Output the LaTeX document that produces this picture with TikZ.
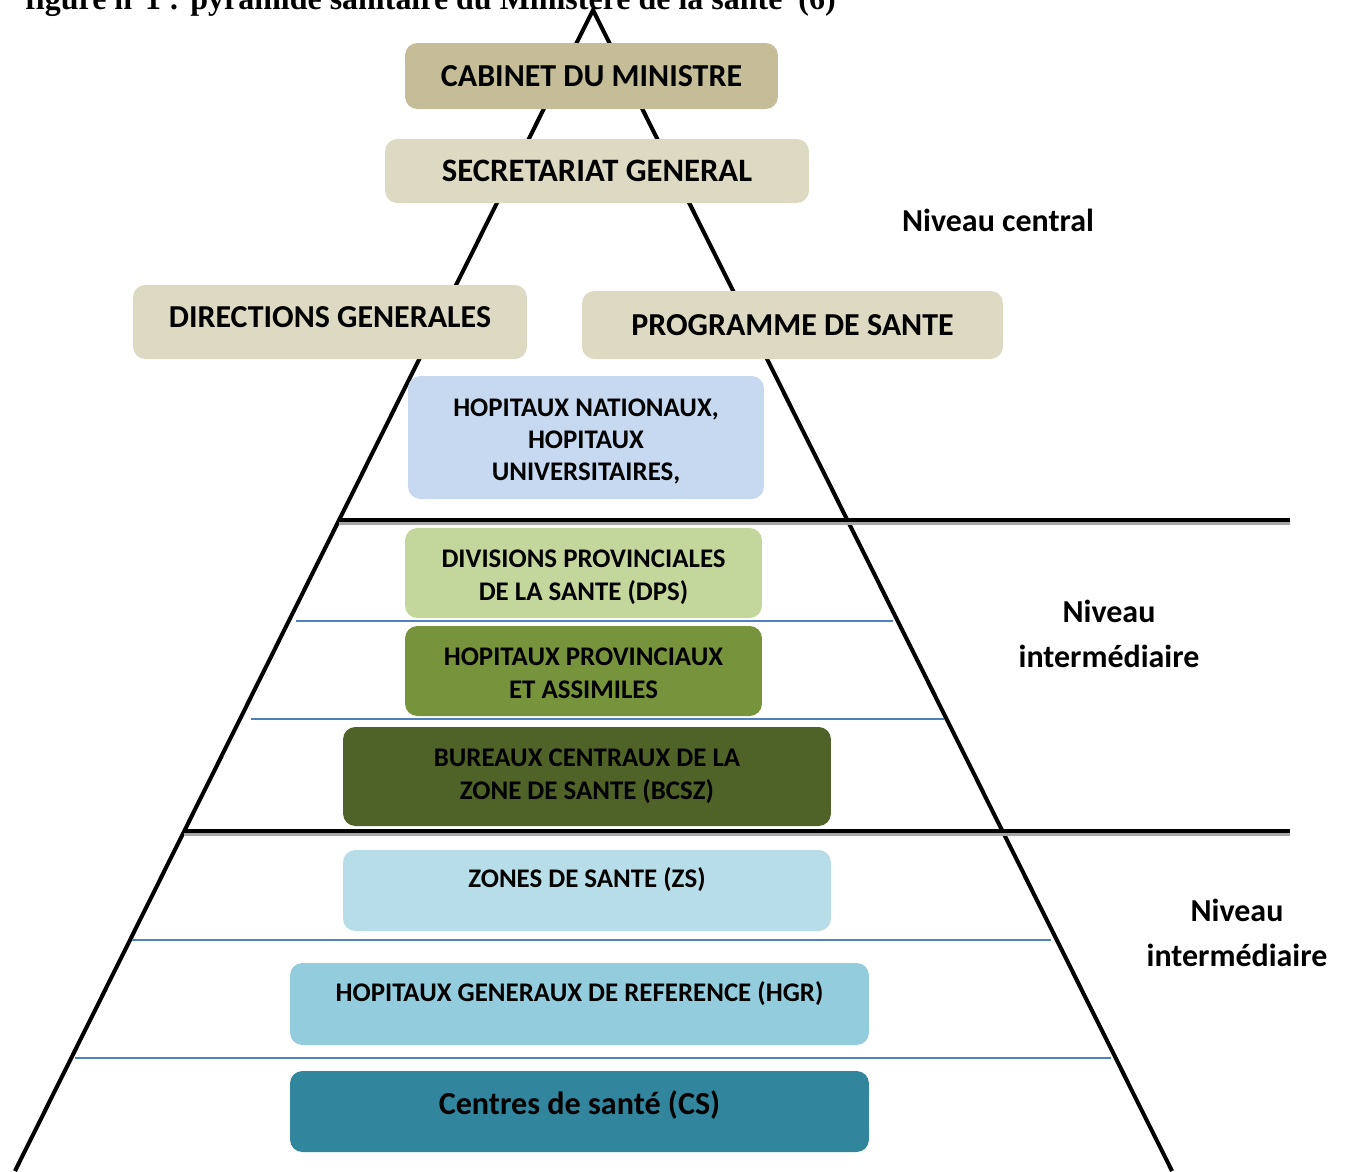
\documentclass[tikz,border=0pt]{standalone}
\usepackage{fontspec}
\setmainfont{Carlito}
\newfontfamily\capfont{Liberation Serif}
\usetikzlibrary{positioning}
\definecolor{cabinet}{HTML}{C4BD97}
\definecolor{central}{HTML}{DDD9C3}
\definecolor{nationaux}{HTML}{C6D9F1}
\definecolor{dps}{HTML}{C3D69B}
\definecolor{provinciaux}{HTML}{77933C}
\definecolor{bcsz}{HTML}{4F6228}
\definecolor{zones}{HTML}{B7DEE8}
\definecolor{hgr}{HTML}{93CDDD}
\definecolor{cs}{HTML}{31859C}
\definecolor{rule}{HTML}{4F81BD}

\begin{document}
\begin{tikzpicture}[x=0.02cm, y=-0.02cm,
  box/.style={rectangle, rounded corners=7pt, fill=#1, inner sep=0pt,
              align=center},
  big/.style={font=\bfseries\fontsize{18.2}{22}\selectfont},
  small/.style={font=\bfseries\fontsize{15.3}{18.7}\selectfont},
  lift/.style={text height=0.5cm, text depth=#1},
  lines/.style={text height=#1, text depth=0pt},
  level/.style={font=\bfseries\fontsize{18.2}{25.5}\selectfont, align=center},
  sep/.style={line width=2.8pt},
  thin/.style={draw=rule, line width=1.1pt}
]
  \useasboundingbox (0,0) rectangle (1346,1171);

  % caption, cut at the top of the page
  \node[anchor=base west, inner sep=0pt,
        font=\capfont\bfseries\fontsize{18.2}{22}\selectfont] (caption) at (25,9)
    {figure n°1 : pyramide sanitaire du Ministère de la santé \ (6)};

  % pyramid
  \coordinate (apex) at (593,10);
  \coordinate (baseL) at (15,1171);
  \coordinate (baseR) at (1172,1171);
  \draw[line width=2.3pt] (baseL) -- (apex) -- (baseR);

  % level separators
  \draw[sep, gray!70] (339,523) -- (1290,523);
  \draw[sep] (339,520) -- (1290,520);
  \draw[sep, gray!70] (184,834) -- (1290,834);
  \draw[sep] (184,831) -- (1290,831);
  \draw[thin] (296,621) -- (893,621);
  \draw[thin] (251,719) -- (944,719);
  \draw[thin] (132,940) -- (1051,940);
  \draw[thin] (75,1058) -- (1111,1058);

  % central level
  \node[box=cabinet, big, minimum width=7.46cm, minimum height=1.32cm]
    (cabinet) at (591.5,76) {CABINET DU MINISTRE};
  \node[box=central, big, font=\bfseries\fontsize{18.6}{22}\selectfont,
        minimum width=8.48cm, minimum height=1.28cm]
    (secretariat) at (597,171) {SECRETARIAT GENERAL};
  \node[box=central, big, lift=0.29cm, minimum width=7.88cm, minimum height=1.48cm]
    (directions) at (330,322) {DIRECTIONS GENERALES};
  \node[box=central, big, minimum width=8.42cm, minimum height=1.36cm]
    (programme) at (792.5,325) {PROGRAMME DE SANTE};
  \node[box=nationaux, small, font=\bfseries\fontsize{15.3}{18.1}\selectfont,
        lines=48.45pt, minimum width=7.12cm, minimum height=2.46cm]
    (nationaux) at (586,437.5) {HOPITAUX NATIONAUX,\\HOPITAUX\\UNIVERSITAIRES,};

  % intermediate level
  \node[box=dps, small, lines=31.45pt, minimum width=7.14cm, minimum height=1.8cm]
    (dps) at (583.5,573) {DIVISIONS PROVINCIALES\\DE LA SANTE (DPS)};
  \node[box=provinciaux, small, lines=30.8pt, minimum width=7.14cm, minimum height=1.8cm]
    (provinciaux) at (583.5,671) {HOPITAUX PROVINCIAUX\\ET ASSIMILES};
  \node[box=bcsz, small, lines=26.35pt, minimum width=9.76cm, minimum height=1.98cm]
    (bcsz) at (587,776.5) {BUREAUX CENTRAUX DE LA\\ZONE DE SANTE (BCSZ)};

  % peripheral level
  \node[box=zones, small, lift=0.62cm, minimum width=9.76cm, minimum height=1.62cm]
    (zones) at (587,890.5) {ZONES DE SANTE (ZS)};
  \node[box=hgr, small, lift=0.6cm, minimum width=11.58cm, minimum height=1.64cm]
    (hgr) at (579.5,1004) {HOPITAUX GENERAUX DE REFERENCE (HGR)};
  \node[box=cs, big, font=\bfseries\fontsize{18.3}{22}\selectfont, lift=0.39cm,
        minimum width=11.58cm, minimum height=1.62cm]
    (cs) at (579.5,1111.5) {Centres de santé (CS)};

  % level names
  \node[level] (lvlcentral) at (998,220) {Niveau central};
  \node[level] (lvlinter) at (1109,633.5) {Niveau\\intermédiaire};
  \node[level] (lvlperiph) at (1237,933) {Niveau\\intermédiaire};
\end{tikzpicture}
\end{document}
